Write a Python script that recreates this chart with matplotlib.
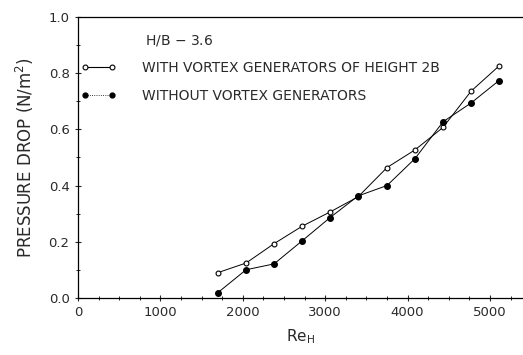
import numpy as np
import matplotlib
matplotlib.use('Agg')
import matplotlib.pyplot as plt
from matplotlib.lines import Line2D
from matplotlib.ticker import MultipleLocator

plt.rcParams['font.family'] = ['DejaVu Sans']

# 读图得到的数据
re_h = [1700, 2040, 2380, 2720, 3060, 3400, 3750, 4090, 4430, 4770, 5110]
dp_with_vg = [0.09, 0.124, 0.193, 0.255, 0.306, 0.36, 0.464, 0.527, 0.607, 0.736, 0.826]
dp_without_vg = [0.019, 0.10, 0.121, 0.203, 0.286, 0.363, 0.40, 0.496, 0.627, 0.694, 0.774]

label_with = 'WITH VORTEX GENERATORS OF HEIGHT 2B'
label_without = 'WITHOUT VORTEX GENERATORS'

TXT = '#2a2a2a'

fig = plt.figure(figsize=(5.23, 3.55), dpi=100)
ax = fig.add_axes([0.149, 0.161, 0.851, 0.791])

ax.plot(re_h, dp_with_vg, color='black', lw=0.7, marker='o', ms=3.5,
        mfc='white', mec='black', mew=0.8, zorder=3)
ax.plot(re_h, dp_without_vg, color='black', lw=0.7, marker='o', ms=4,
        mfc='black', mec='black', zorder=4)

ax.set_xlim(0, 5400)
ax.set_ylim(0, 1.0)
ax.xaxis.set_major_locator(MultipleLocator(1000))
ax.xaxis.set_minor_locator(MultipleLocator(250))
ax.yaxis.set_major_locator(MultipleLocator(0.2))
ax.yaxis.set_minor_locator(MultipleLocator(0.1))
ax.yaxis.set_major_formatter(plt.FuncFormatter(lambda v, p: f'{v:.1f}'))
ax.tick_params(which='major', direction='inout', length=5, width=0.8, labelsize=9.5, colors=TXT)
ax.tick_params(which='minor', direction='inout', length=3, width=0.6)
ax.spines['right'].set_visible(False)
for s in ['left', 'bottom', 'top']:
    ax.spines[s].set_linewidth(0.9)

ax.set_xlabel('Re$_\\mathrm{H}$', fontsize=11, labelpad=6, color=TXT)
ax.set_ylabel('PRESSURE DROP (N/m$^2$)', fontsize=12, labelpad=9, color=TXT)

ax.text(0.151, 0.915, 'H/B $-$ 3.6', transform=ax.transAxes, fontsize=10, color=TXT,
        va='center')

handles = [
    Line2D([0], [0], color='black', lw=0.8, marker='o', ms=3.5, mfc='white', mec='black', mew=0.8),
    Line2D([0], [0], color='black', lw=0.6, ls=':', marker='o', ms=3.5, mfc='black', mec='black'),
]
leg = ax.legend(handles, [label_with, label_without], loc='upper left',
                bbox_to_anchor=(0.0075, 0.843), frameon=False, numpoints=2,
                borderpad=0, borderaxespad=0,
                handlelength=2.54, handletextpad=1.85, labelspacing=1.0,
                fontsize=10)
for t in leg.get_texts():
    t.set_color(TXT)

fig.savefig('out.png', dpi=100)
